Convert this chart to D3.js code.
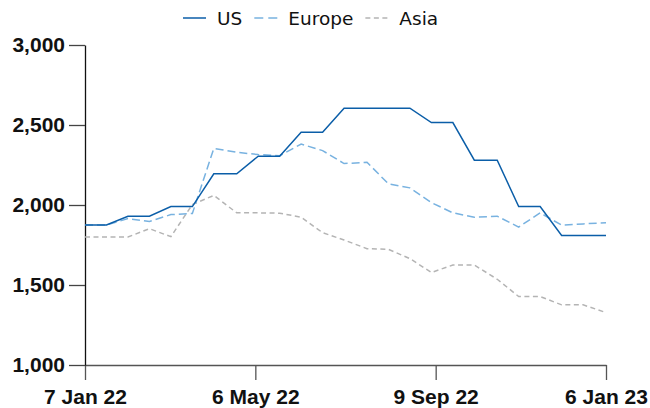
<!DOCTYPE html>
<html>
<head>
<meta charset="utf-8">
<script src="https://cdn.jsdelivr.net/npm/d3@7"></script>
<style>
  body { margin: 0; background: #fff; }
  svg { display: block; font-family: "DejaVu Sans", sans-serif; }
</style>
</head>
<body>
<div id="chart"></div>
<script>
// half-monthly observations
const dates = [
  "2022-01-07", "2022-01-22", "2022-02-06", "2022-02-21", "2022-03-08",
  "2022-03-23", "2022-04-07", "2022-04-23", "2022-05-08", "2022-05-23",
  "2022-06-07", "2022-06-22", "2022-07-07", "2022-07-23", "2022-08-07",
  "2022-08-22", "2022-09-06", "2022-09-21", "2022-10-06", "2022-10-22",
  "2022-11-06", "2022-11-21", "2022-12-06", "2022-12-21", "2023-01-06"
];
const us = [1875, 1875, 1930, 1930, 1990, 1990, 2195, 2195, 2305, 2305, 2455, 2455, 2605,
  2605, 2605, 2605, 2515, 2515, 2280, 2280, 1990, 1990, 1810, 1810, 1810];
const europe = [1875, 1875, 1915, 1897, 1940, 1947, 2354, 2330, 2315, 2308, 2381, 2340, 2259,
  2267, 2132, 2107, 2015, 1951, 1924, 1930, 1862, 1951, 1874, 1882, 1889];
const asia = [1800, 1800, 1800, 1852, 1802, 2003, 2060, 1951, 1951, 1949, 1924, 1827, 1781,
  1727, 1723, 1665, 1578, 1625, 1625, 1536, 1428, 1428, 1376, 1376, 1328];
const xTickDates = ["2022-01-07", "2022-05-06", "2022-09-09", "2023-01-06"];
const yTicks = [1000, 1500, 2000, 2500, 3000];

const parse = d3.timeParse("%Y-%m-%d");
const series = [
  { name: "US", values: us, color: "#0b5ea8", dash: null },
  { name: "Europe", values: europe, color: "#78b2e0", dash: "8,4" },
  { name: "Asia", values: asia, color: "#b4b4b4", dash: "5,3.5" }
];

const W = 650, H = 408;
const margin = { top: 45, right: 44, bottom: 43, left: 85 };
const width = W - margin.left - margin.right;
const height = H - margin.top - margin.bottom;

const svg = d3.select("#chart").append("svg")
  .attr("width", W)
  .attr("height", H);

const g = svg.append("g")
  .attr("transform", `translate(${margin.left},${margin.top})`);

const x = d3.scaleTime()
  .domain([parse(dates[0]), parse(dates[dates.length - 1])])
  .range([0, width]);

const y = d3.scaleLinear()
  .domain([1000, 3000])
  .range([height, 0]);

// x axis
const xAxis = g.append("g")
  .attr("transform", `translate(0,${height})`)
  .call(d3.axisBottom(x)
    .tickValues(xTickDates.map(parse))
    .tickFormat(d3.timeFormat("%-d %b %y"))
    .tickSize(15)
    .tickSizeOuter(0)
    .tickPadding(9));
xAxis.selectAll("path, line").attr("stroke", "#555").attr("stroke-width", 1.3);
xAxis.selectAll("text")
  .attr("fill", "#111")
  .style("font-size", "21px")
  .style("font-weight", "bold");

// y axis
const yAxis = g.append("g")
  .call(d3.axisLeft(y)
    .tickValues(yTicks)
    .tickFormat(d3.format(","))
    .tickSize(16)
    .tickSizeOuter(0)
    .tickPadding(4));
yAxis.select(".domain").attr("stroke", "#111").attr("stroke-width", 1.3);
yAxis.selectAll("line").attr("stroke", "#444").attr("stroke-width", 1.3);
yAxis.selectAll("text")
  .attr("fill", "#111")
  .style("font-size", "21px")
  .style("font-weight", "bold");

// lines
const line = d3.line()
  .x((d, i) => x(parse(dates[i])))
  .y(d => y(d));

series.slice().reverse().forEach(s => {
  g.append("path")
    .datum(s.values)
    .attr("fill", "none")
    .attr("stroke", s.color)
    .attr("stroke-width", 1.5)
    .attr("stroke-dasharray", s.dash)
    .attr("d", line);
});

// legend
const legend = svg.append("g").attr("transform", "translate(183,18)");
let lx = 0;
series.forEach(s => {
  legend.append("line")
    .attr("x1", lx).attr("x2", lx + 23)
    .attr("y1", 0).attr("y2", 0)
    .attr("stroke", s.color)
    .attr("stroke-width", 1.5)
    .attr("stroke-dasharray", s.name === "Europe" ? "9,5" : s.dash);
  const t = legend.append("text")
    .attr("x", lx + 34)
    .attr("y", 0)
    .attr("dy", "0.36em")
    .attr("fill", "#111")
    .style("font-size", "18.5px")
    .text(s.name);
  lx += 34 + t.node().getComputedTextLength() + 12;
});
</script>
</body>
</html>
